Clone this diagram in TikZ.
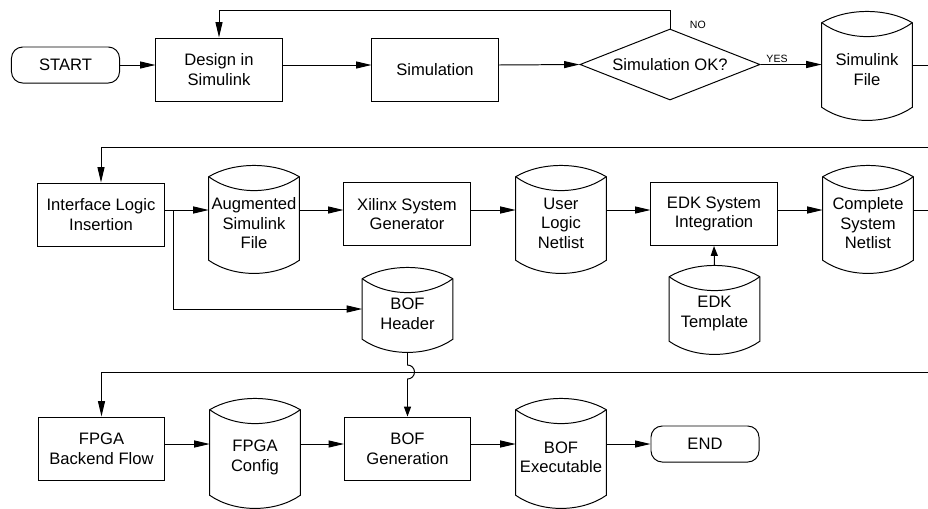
\documentclass[tikz,border=0pt]{standalone}
\usepackage{fontspec}
\setmainfont{Liberation Sans}
\usetikzlibrary{shapes.geometric,arrows.meta,positioning}
\tikzset{
  txt/.style={font=\fontsize{11.8}{14}\selectfont},
  block/.style={draw, txt, line width=0.7pt, minimum width=3.15cm, minimum height=1.575cm, align=center, inner sep=1pt},
  term/.style={draw, txt, line width=0.7pt, rounded corners=8pt, minimum width=2.7cm, minimum height=0.9cm},
  decision/.style={draw, txt, diamond, aspect=2.5, line width=0.7pt, inner sep=0pt, minimum width=4.5cm, minimum height=1.775cm},
  filebody/.style={minimum width=2.25cm, inner sep=0pt},
  filetext/.style={txt, align=center, inner sep=0pt},
  link/.style={line width=0.7pt},
  flow/.style={link, -{Triangle[length=11pt,width=5pt]}},
  flowsmall/.style={link, -{Triangle[length=7pt,width=5pt]}},
  lbl/.style={font=\fontsize{7.5}{9}\selectfont, inner sep=1pt}
}
\newcommand{\datafile}[5]{%
  \node[filebody, minimum height=#4] (#1) at (#2,#3) {};
  \node[filetext] (#1-txt) at ([yshift=-0.12cm]#1.center) {#5};
  \draw[link] (#1.north west) .. controls +(25,-15) and +(-25,-15) .. (#1.north east)
    -- (#1.south east) .. controls +(-25,17.5) and +(25,17.5) .. (#1.south west) -- cycle;
  \draw[link] (#1.north west) .. controls +(25,18.5) and +(-25,18.5) .. (#1.north east);
  \path (#1.north) ++(0,-11) coordinate (#1-t);
  \path (#1.south) ++(0,13) coordinate (#1-b);
}
\begin{document}
\begin{tikzpicture}[x=0.025cm, y=-0.025cm]
  \useasboundingbox (0,0) rectangle (928,508);

  \coordinate (ax1) at (0,65);
  \coordinate (ax2) at (0,210);
  \coordinate (ax3) at (0,444);
  \coordinate (fb) at (0,10);
  \coordinate (r1out) at (928,65);
  \coordinate (r2in) at (928,147);
  \coordinate (r2out) at (928,210);
  \coordinate (r3in) at (928,372);
  \coordinate (split) at (173,210);
  \coordinate (hopin) at (0,365);

  \node[term] (start) at (65.5,65) {START};
  \node[block] (design) at (219,69.5) {Design in\\Simulink};
  \node[block] (simul) at (435,69.5) {Simulation};
  \node[decision] (dec) at (670,64.5) {Simulation OK?};
  \datafile{simfile}{867}{65}{2.1cm}{Simulink\\File}

  \draw[flow] (start.east |- ax1) -- (design.west |- ax1);
  \draw[flow] (design.east |- ax1) -- (simul.west |- ax1);
  \draw[flow] (simul.east |- ax1) -- (dec.west);
  \draw[flow] (dec.east) -- node[pos=0.27, above, lbl] {YES} (dec.east -| simfile.west);
  \draw[flow] (dec.north) -- node[pos=0.2, right=0.45cm, lbl] {NO} (dec.north |- fb) -| (design.north);
  \draw[link] (simfile.east |- ax1) -- (r1out);

  \node[block] (iface) at (101,214.5) {Interface Logic\\Insertion};
  \datafile{augfile}{254}{218.5}{2.075cm}{Augmented\\Simulink\\File}
  \node[block] (xsg) at (407,214) {Xilinx System\\Generator};
  \datafile{ulnet}{561}{218.5}{2.075cm}{User\\Logic\\Netlist}
  \node[block] (edkint) at (714,214) {EDK System\\Integration};
  \datafile{csnet}{868}{218.5}{2.075cm}{Complete\\System\\Netlist}
  \datafile{edktpl}{714.5}{309}{1.6cm}{EDK\\Template}
  \datafile{bofhdr}{407.5}{309}{1.5cm}{BOF\\Header}

  \draw[flow] (r2in) -| (iface.north);
  \draw[flow] (iface.east |- ax2) -- (augfile.west |- ax2);
  \draw[flow] (augfile.east |- ax2) -- (xsg.west |- ax2);
  \draw[flow] (xsg.east |- ax2) -- (ulnet.west |- ax2);
  \draw[flow] (ulnet.east |- ax2) -- (edkint.west |- ax2);
  \draw[flow] (edkint.east |- ax2) -- (csnet.west |- ax2);
  \draw[link] (csnet.east |- ax2) -- (r2out);
  \draw[flowsmall] (edktpl-t) -- (edkint.south);
  \draw[flow] (split) |- (bofhdr.west);

  \node[block] (fpga) at (101.5,448.5) {FPGA\\Backend Flow};
  \datafile{fpgacfg}{255}{452.5}{2.125cm}{FPGA\\Config}
  \node[block] (bofgen) at (407.5,448.5) {BOF\\Generation};
  \datafile{bofexe}{561}{452.5}{2.125cm}{BOF\\Executable}
  \node[term] (end) at (705,444) {END};

  \draw[flow] (r3in) -| (fpga.north);
  \draw[flow] (fpga.east |- ax3) -- (fpgacfg.west |- ax3);
  \draw[flow] (fpgacfg.east |- ax3) -- (bofgen.west |- ax3);
  \draw[flow] (bofgen.east |- ax3) -- (bofexe.west |- ax3);
  \draw[flow] (bofexe.east |- ax3) -- (end.west);
  \draw[flowsmall] (bofhdr-b) -- (bofhdr-b |- hopin) arc[start angle=-90, end angle=90, radius=7] -- (bofgen.north);
\end{tikzpicture}
\end{document}
